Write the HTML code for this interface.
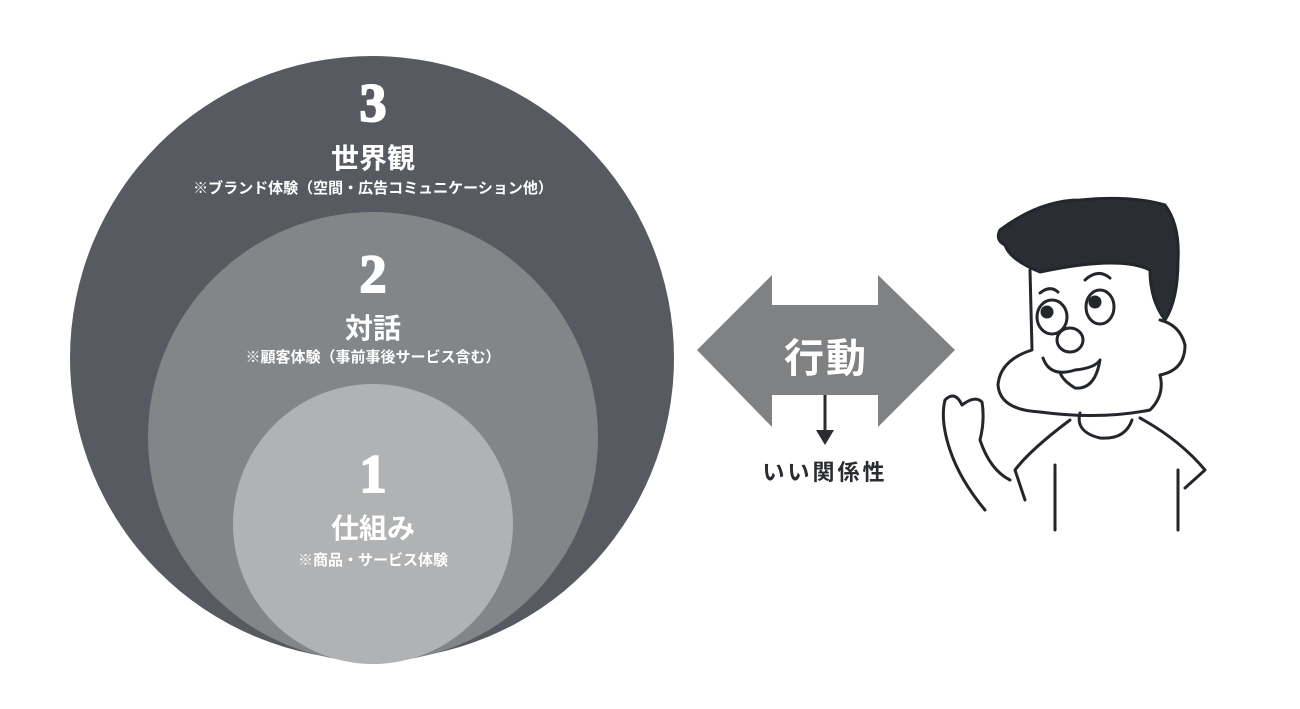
<!DOCTYPE html>
<html><head><meta charset="utf-8"><style>
body{margin:0;width:1300px;height:709px;background:#fff;overflow:hidden;position:relative;font-family:"Liberation Sans","Noto Sans CJK JP",sans-serif}
.t{position:absolute;left:0;width:746px;text-align:center;color:#fff;font-weight:bold}
.n{font-family:"Liberation Serif","Noto Serif CJK SC",serif;font-weight:900;font-size:54px;-webkit-text-stroke:2px #fff}
</style></head><body>
<svg width="1300" height="709" style="position:absolute;left:0;top:0">
<circle cx="372" cy="358" r="302" fill="#575a60"/>
<circle cx="373" cy="437" r="225" fill="#838689"/>
<circle cx="373" cy="524" r="140" fill="#b1b2b3"/>
<polygon points="697,350 772,275 772,305 878,305 878,275 955,350 878,427 878,395 772,395 772,427" fill="#7f8183"/>
<line x1="825" y1="395" x2="825" y2="432" stroke="#2a2c30" stroke-width="3"/>
<polygon points="816,430 834,430 825,445" fill="#2a2c30"/>
<g fill="none" stroke="#23262b" stroke-width="3" stroke-linecap="round" stroke-linejoin="round">
<path d="M1030,270 L1032,350 Q1000,360 998,385 Q1000,410 1040,412 Q1100,420 1150,410 Q1165,395 1160,375 Q1185,370 1185,345 Q1180,325 1160,320"/>
<ellipse cx="1052" cy="317" rx="15" ry="17"/>
<ellipse cx="1100" cy="307" rx="14" ry="17"/>
<circle cx="1047" cy="312" r="5" fill="#23262b"/>
<circle cx="1095" cy="302" r="5" fill="#23262b"/>
<path d="M1040,293 Q1050,285 1058,292 M1085,280 Q1098,268 1110,278"/>
<ellipse cx="1070" cy="340" rx="13" ry="12"/>
<path d="M1043,358 Q1050,378 1075,370 Q1095,368 1100,360 Q1095,390 1075,388 Q1062,380 1060,372"/>
<path d="M1080,413 Q1075,432 1100,438 Q1125,440 1132,420"/>
<path d="M1070,420 Q1030,450 1015,470 M1015,470 L1025,500 M1140,418 Q1180,440 1205,470 L1185,488 M1055,465 L1055,530 M1178,470 L1178,530"/>
<path d="M985,510 Q960,480 950,450 Q940,420 945,400 Q955,390 962,405 Q975,395 982,402 Q985,420 980,440 Q990,470 1010,480"/>
</g>
<path d="M1000,230 Q1040,200 1080,200 Q1130,195 1165,205 Q1180,225 1178,260 Q1178,300 1165,320 Q1150,300 1150,270 Q1120,255 1040,272 Q1010,260 1005,245 Q995,240 1000,230 Z" fill="#2a2d33" stroke="#23262b" stroke-width="3"/>
</svg>
<div class="t n" style="top:72px">3</div>
<div class="t" style="top:137px;font-size:28px">世界観</div>
<div class="t" style="top:177px;font-size:15px">※ブランド体験（空間・広告コミュニケーション他）</div>
<div class="t n" style="top:243px">2</div>
<div class="t" style="top:307px;font-size:28px">対話</div>
<div class="t" style="top:346px;font-size:15px">※顧客体験（事前事後サービス含む）</div>
<div class="t n" style="top:443px">1</div>
<div class="t" style="top:507px;font-size:28px">仕組み</div>
<div class="t" style="top:549px;font-size:15px">※商品・サービス体験</div>
<div style="position:absolute;left:726px;width:200px;top:326px;text-align:center;color:#fff;font-weight:bold;font-size:40px;letter-spacing:2px">行動</div>
<div style="position:absolute;left:725px;width:200px;top:455px;text-align:center;color:#2a2c30;font-weight:bold;font-size:22px;letter-spacing:3px">いい関係性</div>
</body></html>
